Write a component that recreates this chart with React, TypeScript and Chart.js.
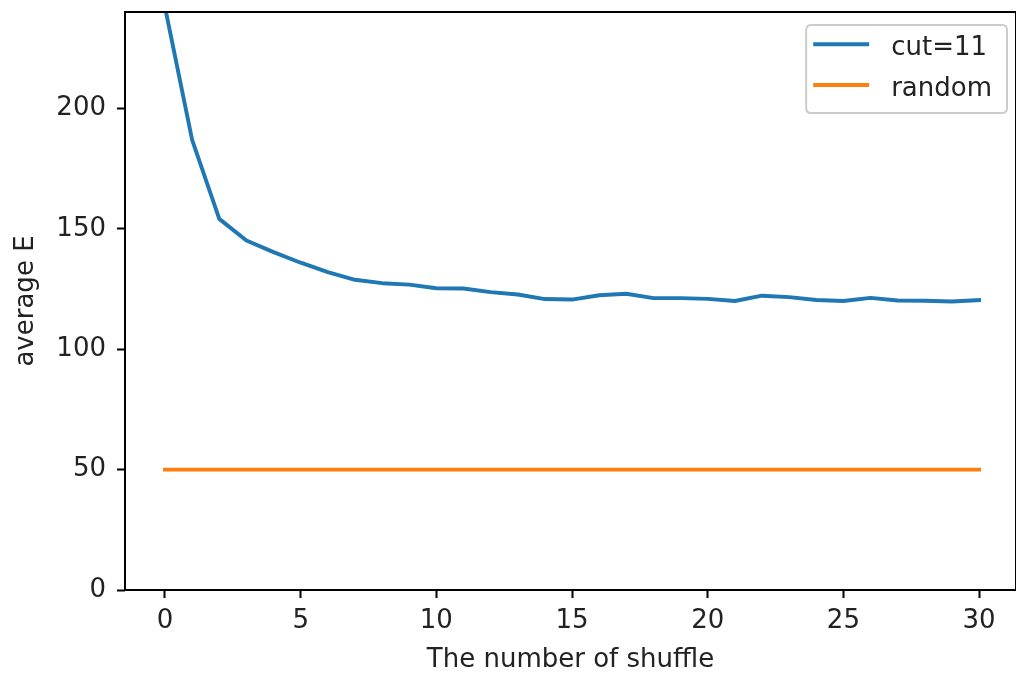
import React, { useEffect, useRef } from 'react';
import { Chart, registerables } from 'chart.js';

Chart.register(...registerables);

const shuffleCounts = [0, 1, 2, 3, 4, 5, 6, 7, 8, 9, 10, 11, 12, 13, 14, 15, 16, 17, 18, 19, 20, 21, 22, 23, 24, 25, 26, 27, 28, 29, 30];
const cut11Values = [242, 186.9, 154.1, 145.1, 140.3, 135.9, 132.0, 128.8, 127.4, 126.8, 125.3, 125.2, 123.7, 122.7, 120.8, 120.6, 122.4, 123.0, 121.2, 121.2, 120.9, 120.0, 122.2, 121.6, 120.4, 120.0, 121.3, 120.2, 120.1, 119.8, 120.4];
const randomValues = [50, 50, 50, 50, 50, 50, 50, 50, 50, 50, 50, 50, 50, 50, 50, 50, 50, 50, 50, 50, 50, 50, 50, 50, 50, 50, 50, 50, 50, 50, 50];
const xTickValues = [0, 5, 10, 15, 20, 25, 30];
const yTickValues = [0, 50, 100, 150, 200];
const seriesLabels = ['cut=11', 'random'];
const seriesColors = ['#1f77b4', '#ff7f0e'];
const xAxisTitle = 'The number of shuffle';
const yAxisTitle = 'average E';

const FONT = "'DejaVu Sans', 'Noto Sans', sans-serif";
const FONT_SIZE = 26;
const TEXT_COLOR = '#222';

const framePlugin = {
  id: 'mplFrame',
  afterDraw(chart: any) {
    const { ctx, chartArea: a } = chart;
    ctx.save();
    ctx.strokeStyle = '#000';
    ctx.lineWidth = 2;
    ctx.strokeRect(a.left, a.top, a.right - a.left, a.bottom - a.top);
    ctx.restore();
  },
};

const legendPlugin = {
  id: 'mplLegend',
  afterDraw(chart: any) {
    const { ctx, chartArea: a } = chart;
    const datasets = chart.data.datasets;
    ctx.save();
    ctx.font = `${FONT_SIZE}px ${FONT}`;
    const maxText = Math.max(...datasets.map((d: any) => ctx.measureText(d.label).width));
    const padL = 9;
    const handleLen = 52;
    const gap = 24;
    const padR = 15;
    const rowH = 40.7;
    const w = padL + handleLen + gap + maxText + padR;
    const h = 88;
    const right = a.right - 9;
    const left = right - w;
    const top = a.top + 13;
    const r = 5;
    ctx.beginPath();
    ctx.moveTo(left + r, top);
    ctx.lineTo(left + w - r, top);
    ctx.quadraticCurveTo(left + w, top, left + w, top + r);
    ctx.lineTo(left + w, top + h - r);
    ctx.quadraticCurveTo(left + w, top + h, left + w - r, top + h);
    ctx.lineTo(left + r, top + h);
    ctx.quadraticCurveTo(left, top + h, left, top + h - r);
    ctx.lineTo(left, top + r);
    ctx.quadraticCurveTo(left, top, left + r, top);
    ctx.closePath();
    ctx.fillStyle = 'rgba(255,255,255,0.8)';
    ctx.fill();
    ctx.strokeStyle = '#cccccc';
    ctx.lineWidth = 2;
    ctx.stroke();
    datasets.forEach((d: any, i: number) => {
      const y = top + 19.3 + i * rowH;
      ctx.beginPath();
      ctx.moveTo(left + padL, y);
      ctx.lineTo(left + padL + handleLen, y);
      ctx.strokeStyle = d.borderColor;
      ctx.lineWidth = 3.9;
      ctx.lineCap = 'square';
      ctx.stroke();
      ctx.fillStyle = TEXT_COLOR;
      ctx.textAlign = 'left';
      ctx.textBaseline = 'alphabetic';
      ctx.fillText(d.label, left + padL + handleLen + gap, y + 11);
    });
    ctx.restore();
  },
};

export default function App() {
  const canvasRef = useRef<HTMLCanvasElement | null>(null);

  useEffect(() => {
    const canvas = canvasRef.current;
    if (!canvas) return;
    const font = { family: FONT, size: FONT_SIZE, lineHeight: 1.2 };
    const chart = new Chart(canvas, {
      type: 'line',
      data: {
        datasets: [
          {
            label: seriesLabels[0],
            data: shuffleCounts.map((x, i) => ({ x, y: cut11Values[i] })),
            borderColor: seriesColors[0],
            backgroundColor: seriesColors[0],
            borderWidth: 3.9,
            pointRadius: 0,
            tension: 0,
            fill: false,
            clip: 0,
            borderCapStyle: 'square',
            borderJoinStyle: 'round',
          } as any,
          {
            label: seriesLabels[1],
            data: shuffleCounts.map((x, i) => ({ x, y: randomValues[i] })),
            borderColor: seriesColors[1],
            backgroundColor: seriesColors[1],
            borderWidth: 3.9,
            pointRadius: 0,
            tension: 0,
            fill: false,
            clip: 0,
            borderCapStyle: 'square',
          } as any,
        ],
      },
      options: {
        responsive: false,
        animation: false,
        devicePixelRatio: 1,
        layout: { padding: { top: 12, left: 0, right: 0, bottom: 0 } },
        plugins: {
          legend: { display: false },
          tooltip: { enabled: false },
        },
        scales: {
          x: {
            type: 'linear',
            min: -1.474,
            max: 31.36,
            afterBuildTicks: (s: any) => {
              s.ticks = xTickValues.map((v) => ({ value: v }));
            },
            afterFit: (s: any) => {
              s.height = 86;
              s.paddingLeft = 0;
              s.paddingRight = 0;
            },
            grid: {
              display: true,
              drawOnChartArea: false,
              drawTicks: true,
              tickLength: 8,
              tickWidth: 2,
              tickColor: '#000',
              color: '#000',
            },
            border: { display: false },
            ticks: {
              font,
              color: TEXT_COLOR,
              padding: 8,
              maxRotation: 0,
              autoSkip: false,
            },
            title: {
              display: true,
              text: xAxisTitle,
              font,
              color: TEXT_COLOR,
              padding: { top: 0, bottom: 0 },
            },
          },
          y: {
            type: 'linear',
            min: 0,
            max: 240,
            afterBuildTicks: (s: any) => {
              s.ticks = yTickValues.map((v) => ({ value: v }));
            },
            afterFit: (s: any) => {
              s.width = 125;
              s.paddingTop = 0;
              s.paddingBottom = 0;
            },
            grid: {
              display: true,
              drawOnChartArea: false,
              drawTicks: true,
              tickLength: 8,
              tickWidth: 2,
              tickColor: '#000',
              color: '#000',
            },
            border: { display: false },
            ticks: {
              font,
              color: TEXT_COLOR,
              padding: 11,
              autoSkip: false,
            },
            title: {
              display: true,
              text: yAxisTitle,
              font,
              color: TEXT_COLOR,
              padding: { top: 10.7, bottom: 0 },
            },
          },
        },
      } as any,
      plugins: [framePlugin, legendPlugin],
    });
    return () => chart.destroy();
  }, []);

  return (
    <div style={{ position: 'absolute', left: 0, top: 0, width: 1016, height: 676, background: '#fff' }}>
      <canvas ref={canvasRef} width={1016} height={676} style={{ display: 'block' }} />
    </div>
  );
}
